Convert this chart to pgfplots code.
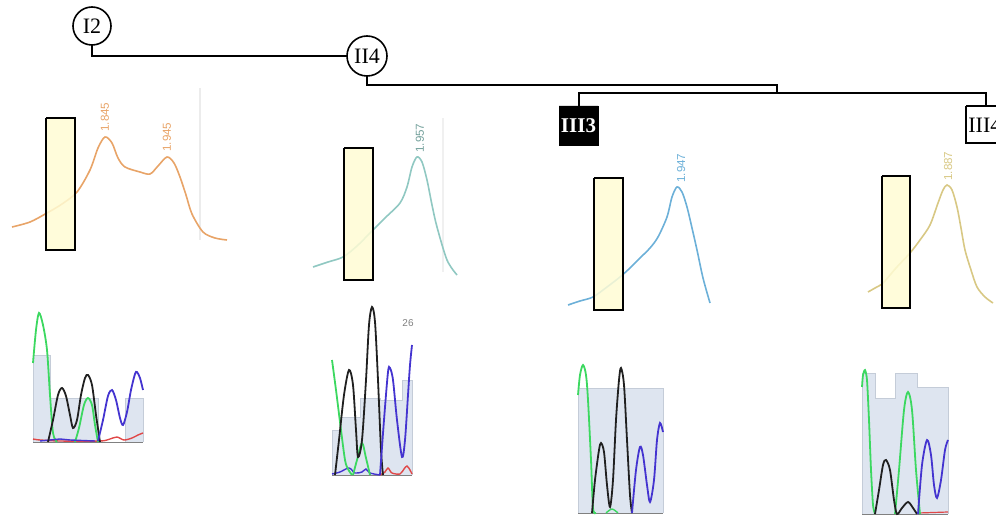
\documentclass[border=0pt]{standalone}
\usepackage{pgfplots}
\pgfplotsset{compat=1.18}
\usepackage{fontspec}
\setmainfont{Liberation Serif}
\newfontfamily\sansf{Liberation Sans}
\definecolor{corange}{HTML}{E8A468}
\definecolor{cteal}{HTML}{90C8C2}
\definecolor{cblue}{HTML}{6CB0D8}
\definecolor{ckhaki}{HTML}{D8C884}
\definecolor{cyel}{HTML}{FFFCD4}
\definecolor{cgfill}{HTML}{DEE5F0}
\definecolor{cgline}{HTML}{C4CCD8}
\definecolor{cgreen}{HTML}{3CD860}
\definecolor{cdark}{HTML}{202020}
\definecolor{cvio}{HTML}{4434D0}
\definecolor{cred}{HTML}{E04848}
\begin{document}
\begin{tikzpicture}
\clip (0,0) rectangle (498pt,259pt);
\begin{axis}[hide axis, scale only axis, width=498pt, height=259pt,
  at={(0,0)}, anchor=south west,
  xmin=0, xmax=996, ymin=0, ymax=518, y dir=reverse, clip=false]
% ---------------- pedigree ----------------
\addplot[black, line width=0.8pt] coordinates {(92,45) (92,56) (347,56)};
\addplot[black, line width=0.8pt] coordinates {(367,76) (367,85) (777,85) (777,93)};
\addplot[black, line width=0.8pt] coordinates {(579,106) (579,93) (986,93) (986,106)};
\draw[black, line width=0.8pt, fill=white] (axis cs:92,26) circle[radius=9.5pt];
\node[font=\fontsize{11}{12}\selectfont] at (axis cs:92,26) {I2};
\draw[black, line width=0.8pt, fill=white] (axis cs:367,56) circle[radius=10pt];
\node[font=\fontsize{11}{12}\selectfont] at (axis cs:367,56) {II4};
\addplot[black, fill=black] coordinates {(559,106) (598,106) (598,145) (559,145) (559,106)};
\node[white, font=\fontsize{10.5}{12}\selectfont\bfseries] at (axis cs:578.5,126) {III3};
\addplot[black, fill=white, line width=0.8pt] coordinates {(966,106) (1010,106) (1010,143) (966,143) (966,106)};
\node[anchor=west, font=\fontsize{11}{12}\selectfont, inner sep=0pt] at (axis cs:968,125) {III4};
% ---------------- melting curves ----------------
\addplot[gray!15, line width=0.6pt] coordinates {(200,88) (200,240)};
\addplot[gray!12, line width=0.6pt] coordinates {(443,118) (443,272)};
\addplot[corange, line width=0.8pt, smooth] coordinates {
(12,227) (30,222) (47,213) (62,204) (77,192) (90,170) (98,148) (105,137) (112,143) (118,158) (125,167) (140,172) (150,174) (158,166) (167,157) (174,163) (180,177) (186,195) (192,214) (203,232) (215,238) (227,240)};
\addplot[cteal, line width=0.8pt, smooth] coordinates {
(313,267) (328,262) (343,257) (357,246) (370,233) (385,218) (400,203) (407,187) (412,167) (417,157) (422,162) (427,180) (432,205) (437,227) (447,260) (457,275)};
\addplot[cblue, line width=0.8pt, smooth] coordinates {
(568,305) (580,301) (593,297) (607,287) (620,277) (630,268) (640,258) (650,248) (658,237) (667,217) (672,197) (677,187) (682,192) (687,207) (692,228) (697,250) (703,278) (710,303)};
\addplot[ckhaki, line width=0.8pt, smooth] coordinates {
(868,292) (875,288) (883,283) (896,268) (910,253) (920,240) (930,225) (938,203) (943,190) (947,185) (952,190) (957,207) (961,228) (965,250) (971,270) (977,287) (985,297) (993,303)};
\node[corange, rotate=90, anchor=west, inner sep=1pt, font=\sansf\fontsize{5.8}{6}\selectfont] at (axis cs:105,134) {1.845};
\node[corange, rotate=90, anchor=west, inner sep=1pt, font=\sansf\fontsize{5.8}{6}\selectfont] at (axis cs:167,154) {1.945};
\node[cteal!80!black, rotate=90, anchor=west, inner sep=1pt, font=\sansf\fontsize{5.8}{6}\selectfont] at (axis cs:420,155) {1.957};
\node[cblue, rotate=90, anchor=west, inner sep=1pt, font=\sansf\fontsize{5.8}{6}\selectfont] at (axis cs:681,185) {1.947};
\node[ckhaki, rotate=90, anchor=west, inner sep=1pt, font=\sansf\fontsize{5.8}{6}\selectfont] at (axis cs:948,183) {1.887};
% yellow boxes
\addplot[draw=black, fill=cyel, fill opacity=0.85, line width=0.9pt] coordinates {(46,118) (75,118) (75,250) (46,250) (46,118)};
\addplot[draw=black, fill=cyel, fill opacity=0.85, line width=0.9pt] coordinates {(344,148) (373,148) (373,280) (344,280) (344,148)};
\addplot[draw=black, fill=cyel, fill opacity=0.85, line width=0.9pt] coordinates {(594,178) (623,178) (623,310) (594,310) (594,178)};
\addplot[draw=black, fill=cyel, fill opacity=0.85, line width=0.9pt] coordinates {(882,176) (910,176) (910,308) (882,308) (882,176)};
% ---------------- chromatogram 1 ----------------
\addplot[draw=cgline, fill=cgfill, line width=0.4pt] coordinates {(33,442) (33,355) (50,355) (50,398) (98,398) (98,442)};
\addplot[draw=cgline, fill=cgfill, line width=0.4pt] coordinates {(125,442) (125,398) (143,398) (143,442)};
\addplot[gray, line width=0.5pt] coordinates {(33,442) (143,442)};
\addplot[cred, line width=0.7pt, smooth] coordinates {(33,439) (40,440) (60,441) (100,441) (110,439) (117,437) (124,440) (132,438) (138,435) (143,433)};
\addplot[cgreen, line width=0.9pt, smooth] coordinates {(33,363) (36,330) (39,313) (43,325) (47,350) (50,395) (53,433) (57,442)};
\addplot[cgreen, line width=0.9pt, smooth] coordinates {(75,442) (79,428) (84,405) (88,398) (92,405) (95,425) (98,442)};
\addplot[cvio, line width=0.7pt] coordinates {(40,441) (60,439) (70,440) (95,441)};
\addplot[cdark, line width=0.9pt, smooth] coordinates {(48,442) (53,420) (58,395) (62,388) (66,396) (70,415) (73,428) (77,420) (81,395) (85,378) (88,375) (92,385) (96,415) (100,442)};
\addplot[cvio, line width=0.9pt, smooth] coordinates {(98,441) (103,420) (108,396) (112,390) (116,400) (120,418) (123,425) (127,412) (131,390) (135,374) (137,372) (140,378) (143,390)};
% ---------------- chromatogram 2 ----------------
\addplot[draw=cgline, fill=cgfill, line width=0.4pt] coordinates {(332,475) (332,430) (340,430) (340,417) (360,417) (360,398) (380,398) (380,400) (402,400) (402,380) (412,380) (412,475)};
\addplot[gray, line width=0.5pt] coordinates {(332,475) (412,475)};
\addplot[cred, line width=0.7pt, smooth] coordinates {(380,475) (385,472) (388,468) (392,473) (400,474) (404,469) (407,466) (410,470) (412,474)};
\addplot[cvio, line width=0.7pt, smooth] coordinates {(332,474) (340,472) (349,468) (355,473) (362,472) (366,469) (370,473) (380,475)};
\addplot[cgreen, line width=0.9pt, smooth] coordinates {(332,360) (336,390) (341,430) (345,460) (348,469) (352,475)};
\addplot[cgreen, line width=0.9pt, smooth] coordinates {(353,475) (357,460) (362,443) (366,458) (370,475)};
\addplot[cdark, line width=0.9pt, smooth] coordinates {(335,475) (339,440) (344,395) (349,370) (353,385) (356,430) (358,457) (362,440) (366,380) (369,325) (372,307) (375,322) (378,380) (381,450) (383,475)};
\addplot[cvio, line width=0.9pt, smooth] coordinates {(380,475) (384,420) (388,372) (390,368) (393,380) (397,420) (402,457) (405,440) (408,395) (410,365) (412,345)};
\node[gray, font=\sansf\fontsize{5}{6}\selectfont] at (axis cs:408,323) {26};
% ---------------- chromatogram 3 ----------------
\addplot[draw=cgline, fill=cgfill, line width=0.4pt] coordinates {(578,513) (578,388) (663,388) (663,513)};
\addplot[gray, line width=0.5pt] coordinates {(578,513) (663,513)};
\addplot[cgreen, line width=0.9pt, smooth] coordinates {(578,395) (580,375) (583,365) (586,375) (588,400) (591,460) (593,508) (596,513)};
\addplot[cgreen, line width=0.7pt, smooth] coordinates {(606,513) (612,509) (618,513)};
\addplot[cdark, line width=0.9pt, smooth] coordinates {(592,513) (595,480) (599,450) (601,443) (604,452) (607,485) (610,507) (613,480) (616,420) (619,380) (621,368) (624,385) (627,440) (630,495) (632,513)};
\addplot[cvio, line width=0.9pt, smooth] coordinates {(632,513) (636,470) (640,447) (643,455) (647,485) (650,502) (654,480) (657,440) (660,423) (663,432)};
% ---------------- chromatogram 4 ----------------
\addplot[draw=cgline, fill=cgfill, line width=0.4pt] coordinates {(862,514) (862,373) (875,373) (875,398) (895,398) (895,373) (917,373) (917,387) (948,387) (948,514)};
\addplot[gray, line width=0.5pt] coordinates {(862,514) (948,514)};
\addplot[cred, line width=0.6pt] coordinates {(918,513) (948,512)};
\addplot[cgreen, line width=0.9pt, smooth, tension=0.4] coordinates {(862,387) (863,375) (865,370) (867,380) (869,420) (871,470) (873,505) (875,514)};
\addplot[cgreen, line width=0.9pt, smooth] coordinates {(895,514) (899,470) (904,410) (908,392) (912,410) (916,470) (920,514)};
\addplot[cdark, line width=0.9pt, smooth] coordinates {(875,514) (879,490) (883,465) (886,460) (890,470) (894,500) (897,514) (902,508) (908,502) (913,508) (917,514)};
\addplot[cvio, line width=0.9pt, smooth] coordinates {(918,514) (922,465) (927,440) (931,455) (934,485) (937,498) (941,480) (945,450) (948,440)};
\end{axis}
\end{tikzpicture}
\end{document}
